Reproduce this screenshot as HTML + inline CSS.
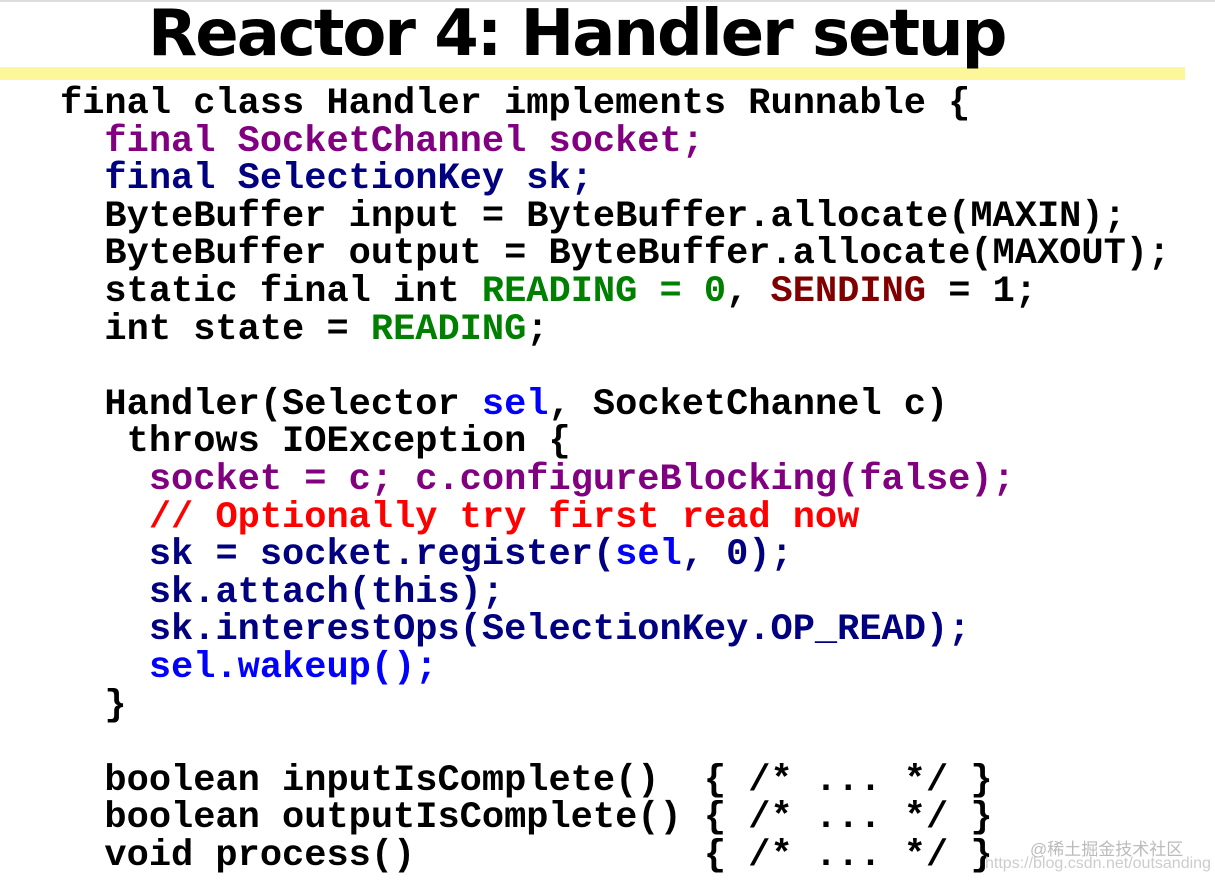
<!DOCTYPE html><html><head><style>
body{margin:0;width:1215px;height:882px;background:#fff;position:relative;overflow:hidden}
.top{position:absolute;left:0;top:0;width:1215px;height:2px;background:#ddd}
.bar{position:absolute;left:0;top:67px;width:1185px;height:13px;background:#fbf79a}
h1{position:absolute;left:148px;top:-3px;margin:0;font:bold 64px "DejaVu Sans","Liberation Sans",sans-serif;letter-spacing:-2px;color:#000;white-space:nowrap}
pre{position:absolute;left:60px;top:86px;margin:0;font:bold 37px/37.6px "Liberation Mono",monospace;color:#000}
.p{color:#800080}.n{color:#000080}.g{color:#008000}.d{color:#800000}.r{color:#ff0000}.b{color:#0000ff}
.wm{position:absolute;left:1030px;top:835px;font:17px "Liberation Sans","Noto Sans CJK SC",sans-serif;color:#bbb}
.wm2{position:absolute;left:985px;top:855px;font:16px "Liberation Sans",sans-serif;color:#ccc}
</style></head><body>
<div class="top"></div>
<div class="bar"></div>
<h1>Reactor 4: Handler setup</h1>
<pre>final class Handler implements Runnable {
  <span class="p">final SocketChannel socket;</span>
  <span class="n">final SelectionKey sk;</span>
  ByteBuffer input = ByteBuffer.allocate(MAXIN);
  ByteBuffer output = ByteBuffer.allocate(MAXOUT);
  static final int <span class="g">READING = 0</span>, <span class="d">SENDING</span> = 1;
  int state = <span class="g">READING</span>;

  Handler(Selector <span class="b">sel</span>, SocketChannel c)
   throws IOException {
    <span class="p">socket = c; c.configureBlocking(false);</span>
    <span class="r">// Optionally try first read now</span>
    <span class="n">sk = socket.register(<span class="b">sel</span>, 0);</span>
    <span class="n">sk.attach(this);</span>
    <span class="n">sk.interestOps(SelectionKey.OP_READ);</span>
    <span class="b">sel.wakeup();</span>
  }

  boolean inputIsComplete()  { /* ... */ }
  boolean outputIsComplete() { /* ... */ }
  void process()             { /* ... */ }</pre>
<div class="wm">@稀土掘金技术社区</div>
<div class="wm2">https://blog.csdn.net/outsanding</div>
</body></html>
